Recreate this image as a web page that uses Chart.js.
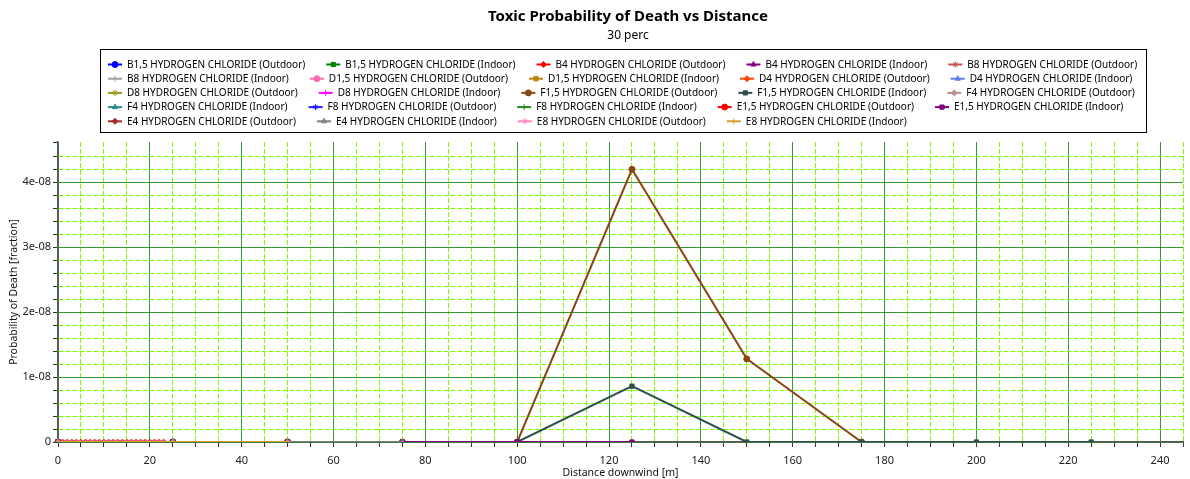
<!DOCTYPE html>
<html>
<head>
<meta charset="utf-8">
<title>Toxic Probability of Death vs Distance</title>
<script src="https://cdn.jsdelivr.net/npm/chart.js@4.4.1/dist/chart.umd.min.js"></script>
<style>
    html, body { margin: 0; padding: 0; background: #ffffff; }
    #wrap { width: 1190px; height: 479px; }
</style>
</head>
<body>
<div id="wrap"><canvas id="probChart" width="1190" height="479"></canvas></div>
<script>
const FONT = '"Noto Sans", "Open Sans", sans-serif';

// Distances downwind [m]
const distShort = [0, 25, 50];
const distFine = [0, 1, 2, 3, 4, 5, 6, 7, 8, 9, 10, 11, 12, 13, 14, 15, 16, 17, 18, 19, 20, 21, 22, 23, 25, 50];
const distTo75 = [0, 25, 50, 75];
const distTo125 = [0, 25, 50, 75, 100, 125];
const distTo175 = [0, 25, 50, 75, 100, 125, 150, 175];
const distTo225 = [0, 25, 50, 75, 100, 125, 150, 175, 200, 225];

// Probability of death [fraction]
const zeroShort = [0, 0, 0];
const zeroFine = [0, 0, 0, 0, 0, 0, 0, 0, 0, 0, 0, 0, 0, 0, 0, 0, 0, 0, 0, 0, 0, 0, 0, 0, 0, 0];
const zeroTo75 = [0, 0, 0, 0];
const zeroTo125 = [0, 0, 0, 0, 0, 0];
const probF15Out = [0, 0, 0, 0, 0, 4.2e-8, 1.28e-8, 0];
const probF15In = [0, 0, 0, 0, 0, 0.86e-8, 0, 0, 0, 0];

const seriesNames = [
    'B1,5 HYDROGEN CHLORIDE (Outdoor)', 'B1,5 HYDROGEN CHLORIDE (Indoor)',
    'B4 HYDROGEN CHLORIDE (Outdoor)', 'B4 HYDROGEN CHLORIDE (Indoor)',
    'B8 HYDROGEN CHLORIDE (Outdoor)', 'B8 HYDROGEN CHLORIDE (Indoor)',
    'D1,5 HYDROGEN CHLORIDE (Outdoor)', 'D1,5 HYDROGEN CHLORIDE (Indoor)',
    'D4 HYDROGEN CHLORIDE (Outdoor)', 'D4 HYDROGEN CHLORIDE (Indoor)',
    'D8 HYDROGEN CHLORIDE (Outdoor)', 'D8 HYDROGEN CHLORIDE (Indoor)',
    'F1,5 HYDROGEN CHLORIDE (Outdoor)', 'F1,5 HYDROGEN CHLORIDE (Indoor)',
    'F4 HYDROGEN CHLORIDE (Outdoor)', 'F4 HYDROGEN CHLORIDE (Indoor)',
    'F8 HYDROGEN CHLORIDE (Outdoor)', 'F8 HYDROGEN CHLORIDE (Indoor)',
    'E1,5 HYDROGEN CHLORIDE (Outdoor)', 'E1,5 HYDROGEN CHLORIDE (Indoor)',
    'E4 HYDROGEN CHLORIDE (Outdoor)', 'E4 HYDROGEN CHLORIDE (Indoor)',
    'E8 HYDROGEN CHLORIDE (Outdoor)', 'E8 HYDROGEN CHLORIDE (Indoor)'
];
const seriesColors = [
    '#0000ff', '#008000', '#ff0000', '#800080', '#c45050', '#a0a0a0',
    '#ff69b4', '#b8860b', '#ff4500', '#5a7fe6', '#9a9a20', '#ff00ff',
    '#8b4513', '#2f4f4f', '#bc8f8f', '#2e8b8b', '#2020ff', '#228b22',
    '#ff0000', '#800080', '#a52a2a', '#808080', '#ff88c0', '#d4a030'
];
const seriesDist = [
    distShort, distShort, distShort, distShort, distShort, distShort,
    distShort, distShort, distShort, distShort, distShort, distShort,
    distTo175, distTo225, distTo75, distShort, distShort, distShort,
    distFine, distTo125, distFine, distTo75, distFine, distShort
];
const seriesProb = [
    zeroShort, zeroShort, zeroShort, zeroShort, zeroShort, zeroShort,
    zeroShort, zeroShort, zeroShort, zeroShort, zeroShort, zeroShort,
    probF15Out, probF15In, zeroTo75, zeroShort, zeroShort, zeroShort,
    zeroFine, zeroTo125, zeroFine, zeroTo75, zeroFine, zeroShort
];
const markerStyles = ['circle', 'rect', 'rectRot', 'triangle', 'star', 'cross'];

const xTickLabels = [0, 20, 40, 60, 80, 100, 120, 140, 160, 180, 200, 220, 240];
const yTickLabels = ['0', '1e-08', '2e-08', '3e-08', '4e-08'];

const MAJOR_GREEN = 'rgba(0, 128, 0, 0.8)';
const MINOR_GREEN = '#7cfc00';

function isMultiple(v, step) {
    const r = v / step;
    return Math.abs(r - Math.round(r)) < 1e-6;
}

function xMajor(v) { return xTickLabels.includes(v); }
function yMajor(v) { return isMultiple(v, 1e-8); }

const datasets = seriesNames.map((name, i) => ({
    label: name,
    data: seriesDist[i].map((d, k) => ({ x: d, y: seriesProb[i][k] })),
    borderColor: seriesColors[i],
    backgroundColor: seriesColors[i],
    pointStyle: markerStyles[i % markerStyles.length],
    pointRadius: seriesDist[i] === distFine ? 2.2 : 3,
    pointBorderWidth: 1,
    borderWidth: 2,
    tension: 0,
    order: seriesNames.length - i,
    clip: { left: 6, top: 6, right: 6, bottom: 0 }
}));

// title, subtitle and boxed legend drawn above the plot
const headerPlugin = {
    id: 'header',
    afterDraw(chart) {
        const ctx = chart.ctx;
        ctx.save();
        ctx.fillStyle = '#000';
        ctx.textAlign = 'center';
        ctx.textBaseline = 'middle';
        ctx.font = 'bold 15px ' + FONT;
        ctx.fillText('Toxic Probability of Death vs Distance', 628, 17);
        ctx.font = '12px ' + FONT;
        ctx.fillText('30 perc', 628, 36);

        // legend frame
        ctx.strokeStyle = '#000';
        ctx.lineWidth = 1;
        ctx.strokeRect(100.5, 49.5, 1046, 83);

        ctx.font = '10px ' + FONT;
        ctx.textAlign = 'left';
        const perRow = 5;
        datasets.forEach((ds, i) => {
            const row = Math.floor(i / perRow);
            const y = 64.5 + row * 14.2;
            let x = 108;
            for (let j = row * perRow; j < i; j++) {
                x += 19 + ctx.measureText(datasets[j].label).width + 21;
            }
            ctx.strokeStyle = ds.borderColor;
            ctx.fillStyle = ds.borderColor;
            ctx.lineWidth = 2;
            ctx.beginPath();
            ctx.moveTo(x, y);
            ctx.lineTo(x + 14, y);
            ctx.stroke();
            ctx.lineWidth = 1;
            Chart.helpers.drawPoint(ctx, {
                pointStyle: ds.pointStyle, radius: 3, rotation: 0, borderWidth: 1
            }, x + 7, y);
            ctx.fillStyle = '#000';
            ctx.fillText(ds.label, x + 19, y + 0.5);
        });
        ctx.restore();
    }
};

new Chart(document.getElementById('probChart'), {
    type: 'line',
    data: { datasets: datasets },
    options: {
        responsive: false,
        animation: false,
        layout: { padding: { top: 142, right: 2, bottom: 0, left: 0 } },
        plugins: {
            legend: { display: false },
            title: { display: false },
            tooltip: { enabled: false }
        },
        scales: {
            x: {
                type: 'linear',
                min: 0,
                max: 245,
                ticks: {
                    stepSize: 5,
                    autoSkip: false,
                    maxRotation: 0,
                    padding: 7,
                    color: '#222',
                    font: { family: FONT, size: 11 },
                    callback: v => xMajor(v) ? String(v) : ''
                },
                grid: {
                    color: c => c.tick ? (xMajor(c.tick.value) ? MAJOR_GREEN : MINOR_GREEN) : MINOR_GREEN,
                    lineWidth: 1,
                    tickLength: 5,
                    tickColor: '#333',
                    tickWidth: 1
                },
                border: {
                    color: '#555',
                    width: 1.5,
                    dash: c => (c.tick && !xMajor(c.tick.value)) ? [5, 2] : []
                },
                title: {
                    display: true,
                    text: 'Distance downwind [m]',
                    color: '#111',
                    font: { family: FONT, size: 10.5 },
                    padding: { top: 0, bottom: 0 }
                },
                afterFit: s => { s.height = 37; }
            },
            y: {
                min: 0,
                max: 4.62e-8,
                ticks: {
                    stepSize: 0.2e-8,
                    autoSkip: false,
                    padding: 2,
                    color: '#222',
                    font: { family: FONT, size: 11 },
                    callback: v => yMajor(v) ? yTickLabels[Math.round(v / 1e-8)] : ''
                },
                grid: {
                    color: c => {
                        if (!c.tick) return MINOR_GREEN;
                        if (yMajor(c.tick.value)) return MAJOR_GREEN;
                        return isMultiple(c.tick.value, 0.2e-8) ? MINOR_GREEN : 'rgba(0,0,0,0)';
                    },
                    lineWidth: 1,
                    tickLength: 5,
                    tickColor: '#333',
                    tickWidth: 1
                },
                border: {
                    color: '#555',
                    width: 1.5,
                    dash: c => (c.tick && !yMajor(c.tick.value)) ? [5, 2] : []
                },
                title: {
                    display: true,
                    text: 'Probability of Death [fraction]',
                    color: '#111',
                    font: { family: FONT, size: 10.5 },
                    padding: { top: 8, bottom: 0 }
                },
                afterFit: s => { s.width = 58; }
            }
        }
    },
    plugins: [headerPlugin]
});
</script>
</body>
</html>
